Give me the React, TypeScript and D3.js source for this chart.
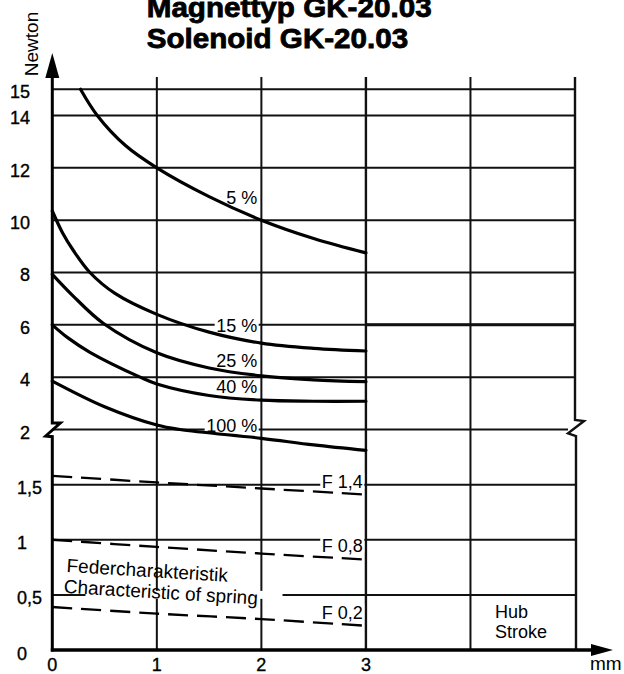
import React, { useLayoutEffect, useRef, useState } from 'react';
import * as d3 from 'd3';

// stroke in mm (x) against force in Newton (y), y axis broken at 2 N
const xGridValues = [1, 2, 3, 4, 5];
const xTickValues = [0, 1, 2, 3];
const upperTicks = [15, 14, 12, 10, 8, 6, 4, 2];
const lowerTicks = [1.5, 1, 0.5, 0];
const lowerTickLabels = ['1,5', '1', '0,5', '0'];

// duty cycle curves [mm, N]
const curve5 = [[0.27, 15], [0.43, 14], [0.7, 12.85], [1, 12], [1.5, 10.9], [2, 10], [2.5, 9.3], [3, 8.75]];
const curve15 = [[0, 10.35], [0.1, 9.5], [0.2, 8.85], [0.36, 8.0], [0.6, 7.2], [1, 6.4], [1.5, 5.72], [2, 5.3], [2.5, 5.1], [3, 5.0]];
const curve25 = [[0, 7.93], [0.2, 7.1], [0.49, 6.05], [1, 4.93], [1.5, 4.35], [2, 4.05], [2.5, 3.9], [3, 3.83]];
const curve40 = [[0, 6.0], [0.15, 5.5], [0.36, 4.95], [0.84, 4.0], [1, 3.74], [1.5, 3.3], [2, 3.12], [2.5, 3.08], [3, 3.08]];
const curve100 = [[0, 3.85], [0.5, 2.87], [1, 2.17], [1.22, 2.0], [2, 1.92], [2.5, 1.86], [3, 1.81]];
const curveNames = ['5 %', '15 %', '25 %', '40 %', '100 %'];

// spring characteristics (dashed)
const springF14 = [[0, 1.58], [1, 1.52], [2, 1.465], [3, 1.41]];
const springF08 = [[0, 1.0], [1, 0.935], [2, 0.875], [3, 0.82]];
const springF02 = [[0, 0.39], [1, 0.33], [2, 0.28], [3, 0.22]];
const springNames = ['F 1,4', 'F 0,8', 'F 0,2'];

const W = 624;
const H = 674;
const FONT = '"Liberation Sans", Arial, Helvetica, sans-serif';

const x = d3.scaleLinear().domain([0, 5]).range([52.3, 575]);
const yUpper = d3.scaleLinear().domain([2, 15]).range([429.5, 89.3]);
const yLower = d3.scaleLinear().domain([0, 2]).range([650, 429.5]);
const y = (v: number) => (v >= 2 ? yUpper(v) : yLower(v));

const line = d3.line<number[]>()
  .x(d => x(d[0]))
  .y(d => y(d[1]))
  .curve(d3.curveCatmullRom.alpha(0.5));

// text with a white box behind its cap height, so grid lines stop at the label
function BoxedLabel({ x: lx, y: ly, text, size = 18 }: { x: number; y: number; text: string; size?: number }) {
  const ref = useRef<SVGTextElement>(null);
  const [box, setBox] = useState<{ x: number; w: number } | null>(null);
  useLayoutEffect(() => {
    if (ref.current) {
      const b = ref.current.getBBox();
      setBox({ x: b.x, w: b.width });
    }
  }, [text]);
  return (
    <g>
      {box && <rect x={box.x - 1.5} y={ly - size * 0.74 - 1} width={box.w + 3} height={size * 0.74 + 2} fill="#fff" />}
      <text ref={ref} x={lx} y={ly} textAnchor="end" fontSize={size}>{text}</text>
    </g>
  );
}

export default function App() {
  const x0 = x(0);
  const x5 = x(5);
  const y2 = y(2);
  const gridTop = 77;
  const yBase = y(0);

  // label placement: grid value + baseline offset
  const curveLabelPos = [
    { v: 10, dy: -16.5 },
    { v: 6, dy: 7 },
    { v: 4, dy: -10.5 },
    { v: 4, dy: 16 },
    { v: 2, dy: 2 },
  ];
  const springLabelPos = [
    { v: 1.5, dy: 3 },
    { v: 1, dy: 12 },
    { v: 0.5, dy: 24 },
  ];
  const labelRight = x(1.96);
  const springRight = x(2.97);

  const springX = 63.5;
  const springY = y(1) + 53;

  return (
    <svg width={W} height={H} style={{ position: 'absolute', left: 0, top: 0, background: '#fff' }} fontFamily={FONT}>
      {/* title */}
      <g fontSize={27.5} fontWeight="bold" stroke="#000" strokeWidth={0.8}>
        <text x={146.7} y={16.5} textLength={285} lengthAdjust="spacingAndGlyphs">Magnettyp GK-20.03</text>
        <text x={146.7} y={48} textLength={261.5} lengthAdjust="spacingAndGlyphs">Solenoid GK-20.03</text>
      </g>

      {/* y axis title */}
      <text transform="translate(38,44) rotate(-90)" textAnchor="middle" fontSize={19}>Newton</text>

      {/* horizontal grid */}
      <g stroke="#111" strokeWidth={2}>
        {upperTicks.map(t => (
          <line key={'u' + t} x1={x0} x2={t === 2 ? x5 - 7 : x5} y1={y(t)} y2={y(t)} />
        ))}
        {lowerTicks.filter(t => t > 0).map(t => (
          <line key={'l' + t} x1={x0} x2={x5} y1={y(t)} y2={y(t)} />
        ))}
        <line x1={x(3)} x2={x5} y1={y(6)} y2={y(6)} strokeWidth={3} />
      </g>

      {/* vertical grid */}
      <g stroke="#111" strokeWidth={2}>
        {xGridValues.filter(v => v < 5).map(v => (
          <line key={v} x1={x(v)} x2={x(v)} y1={gridTop} y2={yBase} strokeWidth={v === 3 ? 2.4 : 2} />
        ))}
        <path
          fill="none"
          strokeWidth={2.4}
          d={`M${x5},${gridTop}V${y2 - 9.5}L${x5 + 9},${y2 - 8.5}L${x5 - 7},${y2 + 3.8}L${x5 + 1},${y2 + 6.5}V${yBase}`}
        />
      </g>

      {/* box behind spring caption */}
      <rect x={springX + 22} y={y(0.5) - 4} width={197} height={8} fill="#fff" />

      {/* axes */}
      <path
        fill="none"
        stroke="#000"
        strokeWidth={3}
        d={`M${x0},${gridTop}V${y2 - 6.5}L${x0 + 8},${y2 - 6.5}L${x0 - 6.6},${y2 + 6.5}L${x0},${y2 + 7.2}V${yBase + 1.5}`}
      />
      <path d={`M${x0},53L${x0 - 7},${gridTop + 1}L${x0 + 7},${gridTop + 1}Z`} fill="#000" />
      <line x1={x0 - 1.5} x2={592} y1={yBase} y2={yBase} stroke="#000" strokeWidth={3.3} />
      <path d={`M591,${yBase - 6}L613,${yBase}L591,${yBase + 6}Z`} fill="#000" />

      {/* tick labels */}
      <g fontSize={18} fill="#000" stroke="#000" strokeWidth={0.35}>
        {upperTicks.map(t => (
          <text key={'ut' + t} x={30} y={y(t) + 9} textAnchor="end">{t}</text>
        ))}
        {lowerTicks.map((t, i) => {
          const parts = lowerTickLabels[i].split(',');
          return (
            <g key={'lt' + t}>
              <text x={27} y={y(t) + 9.5} textAnchor="end">{parts[0]}</text>
              {parts[1] && <text x={27} y={y(t) + 9.5}>{',' + parts[1]}</text>}
            </g>
          );
        })}
        {xTickValues.map(v => (
          <text key={'xt' + v} x={x(v)} y={670.5} textAnchor="middle">{v}</text>
        ))}
        <text x={590} y={670} fontSize={19} strokeWidth={0}>mm</text>
      </g>

      {/* curve labels */}
      <g fill="#000">
        {curveNames.map((n, i) => (
          <BoxedLabel key={n} x={labelRight} y={y(curveLabelPos[i].v) + curveLabelPos[i].dy} text={n} />
        ))}
        {springNames.map((n, i) => (
          <BoxedLabel key={n} x={springRight} y={y(springLabelPos[i].v) + springLabelPos[i].dy} text={n} />
        ))}
      </g>

      {/* spring caption */}
      <g transform={`translate(${springX},${springY}) rotate(3.5)`} fontSize={19}>
        <text x={1.5} y={-21}>Federcharakteristik</text>
        <text x={0} y={0}>Characteristic of spring</text>
      </g>

      {/* Hub / Stroke */}
      <g fontSize={18}>
        <text x={495} y={618}>Hub</text>
        <text x={495} y={638}>Stroke</text>
      </g>

      {/* duty cycle curves */}
      <g fill="none" stroke="#000" strokeWidth={3.2} strokeLinecap="round">
        {[curve5, curve15, curve25, curve40, curve100].map((c, i) => (
          <path key={i} d={line(c) || ''} />
        ))}
      </g>

      {/* spring lines */}
      <g fill="none" stroke="#000" strokeWidth={2.3} strokeDasharray="20 9">
        {[springF14, springF08, springF02].map((c, i) => (
          <path key={i} d={line(c) || ''} />
        ))}
      </g>
    </svg>
  );
}
